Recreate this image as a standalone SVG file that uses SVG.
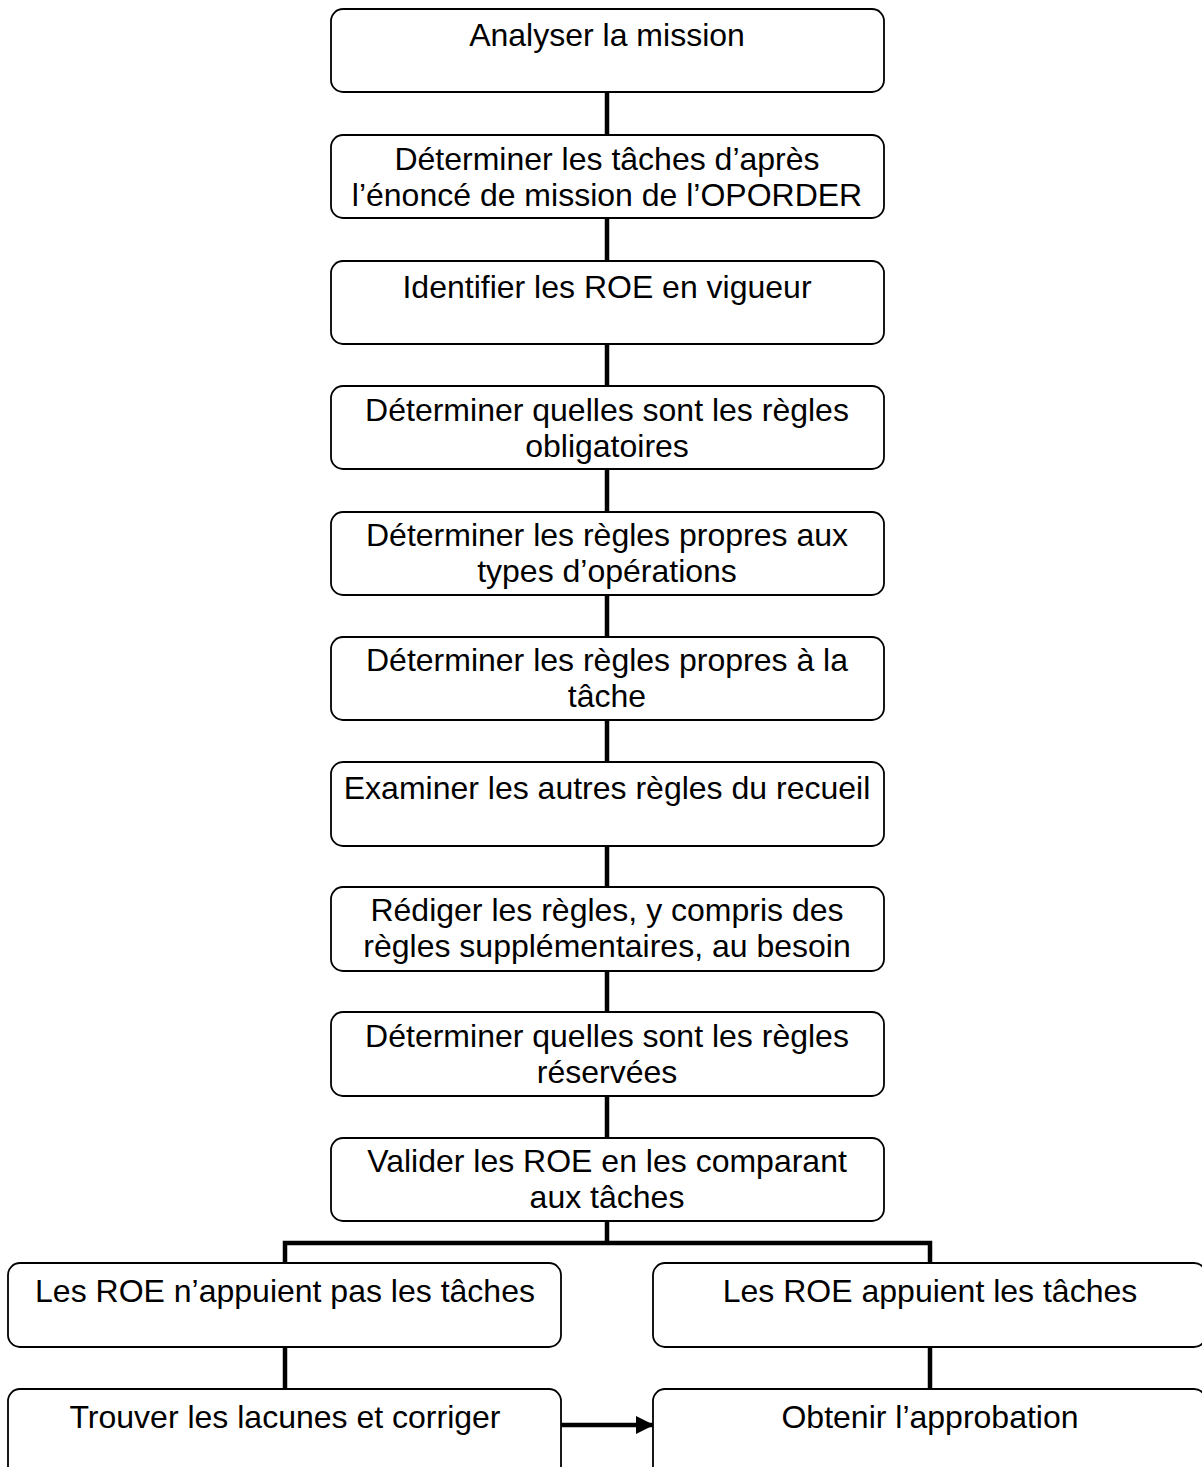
<svg xmlns="http://www.w3.org/2000/svg" width="1202" height="1467" viewBox="0 0 1202 1467">
<defs>
<style>
.box{fill:#fff;stroke:#000;stroke-width:1.8}
.t{font-family:"Liberation Sans",Arial,sans-serif;font-size:32px;fill:#000;text-anchor:middle}
.c{stroke:#000;stroke-width:4.5;fill:none}
</style>
<marker id="ah" markerUnits="userSpaceOnUse" markerWidth="20" markerHeight="18" refX="18" refY="9" orient="auto">
<path d="M0,0 L18,9 L0,18 Z" fill="#000"/>
</marker>
</defs>
<rect width="1202" height="1467" fill="#fff"/>
<g id="connectors">
<line class="c" x1="607" y1="92" x2="607" y2="135"/>
<line class="c" x1="607" y1="218" x2="607" y2="261"/>
<line class="c" x1="607" y1="344" x2="607" y2="386"/>
<line class="c" x1="607" y1="469" x2="607" y2="512"/>
<line class="c" x1="607" y1="595" x2="607" y2="637"/>
<line class="c" x1="607" y1="720" x2="607" y2="762"/>
<line class="c" x1="607" y1="846" x2="607" y2="887"/>
<line class="c" x1="607" y1="971" x2="607" y2="1012"/>
<line class="c" x1="607" y1="1096" x2="607" y2="1138"/>
<line class="c" x1="607" y1="1221" x2="607" y2="1243"/>
<polyline class="c" points="285,1263 285,1243 930,1243 930,1263"/>
<line class="c" x1="285" y1="1347" x2="285" y2="1389"/>
<line class="c" x1="930" y1="1347" x2="930" y2="1389"/>
<line class="c" x1="558" y1="1425" x2="654" y2="1425" marker-end="url(#ah)"/>
</g>
<g id="n1"><rect class="box" x="331" y="9" width="553" height="83" rx="12"/><text class="t" x="607" y="46">Analyser la mission</text></g>
<g id="n2"><rect class="box" x="331" y="135" width="553" height="83" rx="12"/><text class="t" x="607" y="170">Déterminer les tâches d’après</text><text class="t" x="607" y="206">l’énoncé de mission de l’OPORDER</text></g>
<g id="n3"><rect class="box" x="331" y="261" width="553" height="83" rx="12"/><text class="t" x="607" y="298">Identifier les ROE en vigueur</text></g>
<g id="n4"><rect class="box" x="331" y="386" width="553" height="83" rx="12"/><text class="t" x="607" y="421">Déterminer quelles sont les règles</text><text class="t" x="607" y="457">obligatoires</text></g>
<g id="n5"><rect class="box" x="331" y="512" width="553" height="83" rx="12"/><text class="t" x="607" y="546">Déterminer les règles propres aux</text><text class="t" x="607" y="582">types d’opérations</text></g>
<g id="n6"><rect class="box" x="331" y="637" width="553" height="83" rx="12"/><text class="t" x="607" y="671">Déterminer les règles propres à la</text><text class="t" x="607" y="707">tâche</text></g>
<g id="n7"><rect class="box" x="331" y="762" width="553" height="84" rx="12"/><text class="t" x="607" y="799">Examiner les autres règles du recueil</text></g>
<g id="n8"><rect class="box" x="331" y="887" width="553" height="84" rx="12"/><text class="t" x="607" y="921">Rédiger les règles, y compris des</text><text class="t" x="607" y="957">règles supplémentaires, au besoin</text></g>
<g id="n9"><rect class="box" x="331" y="1012" width="553" height="84" rx="12"/><text class="t" x="607" y="1047">Déterminer quelles sont les règles</text><text class="t" x="607" y="1083">réservées</text></g>
<g id="n10"><rect class="box" x="331" y="1138" width="553" height="83" rx="12"/><text class="t" x="607" y="1172">Valider les ROE en les comparant</text><text class="t" x="607" y="1208">aux tâches</text></g>
<g id="n11"><rect class="box" x="8" y="1263" width="553" height="84" rx="12"/><text class="t" x="285" y="1302">Les ROE n’appuient pas les tâches</text></g>
<g id="n12"><rect class="box" x="653" y="1263" width="553" height="84" rx="12"/><text class="t" x="930" y="1302">Les ROE appuient les tâches</text></g>
<g id="n13"><rect class="box" x="8" y="1389" width="553" height="100" rx="12"/><text class="t" x="285" y="1428">Trouver les lacunes et corriger</text></g>
<g id="n14"><rect class="box" x="653" y="1389" width="553" height="100" rx="12"/><text class="t" x="930" y="1428">Obtenir l’approbation</text></g>
</svg>
